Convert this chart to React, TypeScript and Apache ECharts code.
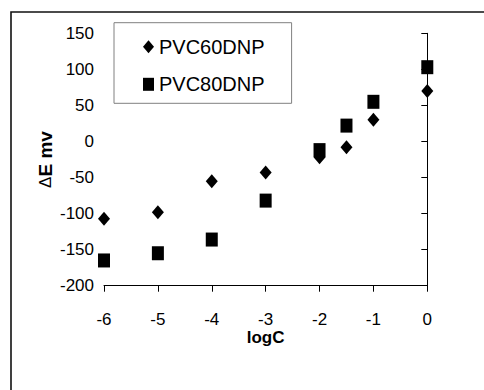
import React, { useEffect, useRef } from "react";
import * as echarts from "echarts";

const xValues60 = [-6, -5, -4, -3, -2, -1.5, -1, 0];
const yValues60 = [-107, -98, -55, -43, -22, -8, 30, 70];
const xValues80 = [-6, -5, -4, -3, -2, -1.5, -1, 0];
const yValues80 = [-165, -155, -136, -82, -12, 22, 55, 103];
const seriesNames = ["PVC60DNP", "PVC80DNP"];
const xTitle = "logC";
const yTitle = "E mv";

const FONT = "'Liberation Sans', Arial, sans-serif";

export default function App() {
  const ref = useRef<HTMLDivElement>(null);
  useEffect(() => {
    if (!ref.current) return;
    const chart = echarts.init(ref.current, null, { renderer: "svg" });
    const d60 = xValues60.map((x, i) => [x, yValues60[i]]);
    const d80 = xValues80.map((x, i) => [x, yValues80[i]]);
    chart.setOption({
      animation: false,
      backgroundColor: "#ffffff",
      textStyle: { fontFamily: FONT, color: "#000" },
      graphic: [
        {
          type: "rect",
          shape: { x: 11, y: 12, width: 520, height: 420 },
          style: { fill: "none", stroke: "#111", lineWidth: 1.6 },
          silent: true,
          z: -1,
        },
      ],
      grid: { left: 104, top: 33.3, right: 56.7, bottom: 104.3 },
      legend: {
        orient: "vertical",
        left: 114,
        top: 22.7,
        padding: [14, 27, 9, 29],
        itemGap: 17.6,
        itemWidth: 11,
        itemHeight: 13,
        backgroundColor: "#fff",
        borderColor: "#808080",
        borderWidth: 1,
        textStyle: { fontFamily: FONT, fontSize: 20, color: "#000" },
        data: seriesNames,
      },
      xAxis: {
        type: "value",
        min: -6,
        max: 0,
        interval: 1,
        name: xTitle,
        nameLocation: "middle",
        nameGap: 45,
        nameMoveOverlap: false,
        nameTextStyle: { fontFamily: FONT, fontSize: 17, lineHeight: 13, fontWeight: "bold", color: "#000" },
        axisLine: { onZero: false, lineStyle: { color: "#000", width: 1 } },
        axisTick: { show: true, inside: false, length: 6, lineStyle: { color: "#000" } },
        axisLabel: { fontFamily: FONT, fontSize: 17, lineHeight: 13, color: "#000", margin: 27 },
        splitLine: { show: false },
      },
      yAxis: {
        type: "value",
        min: -200,
        max: 150,
        interval: 50,
        name: "{d|Δ}{b|" + yTitle + "}",
        nameLocation: "middle",
        nameGap: 49,
        nameMoveOverlap: false,
        nameTextStyle: {
          fontFamily: FONT,
          color: "#000",
          rich: {
            d: { fontFamily: FONT, fontSize: 17, fontWeight: "normal", color: "#000" },
            b: { fontFamily: FONT, fontSize: 19, fontWeight: "bold", color: "#000" },
          },
        },
        axisLine: { show: true, lineStyle: { color: "#000", width: 1 } },
        axisTick: { show: true, inside: false, length: 6, lineStyle: { color: "#000" } },
        axisLabel: { fontFamily: FONT, fontSize: 17, color: "#000", margin: 10 },
        splitLine: { show: false },
      },
      series: [
        {
          name: seriesNames[0],
          type: "scatter",
          symbol: "diamond",
          symbolSize: [12, 14],
          itemStyle: { color: "#000", opacity: 1 },
          data: d60,
          z: 2,
        },
        {
          name: seriesNames[1],
          type: "scatter",
          symbol: "rect",
          symbolSize: [12, 14],
          itemStyle: { color: "#000", opacity: 1 },
          data: d80,
          z: 3,
        },
      ],
    });
    return () => chart.dispose();
  }, []);
  return (
    <div
      ref={ref}
      style={{ position: "fixed", left: 0, top: 0, width: 484, height: 390 }}
    />
  );
}
